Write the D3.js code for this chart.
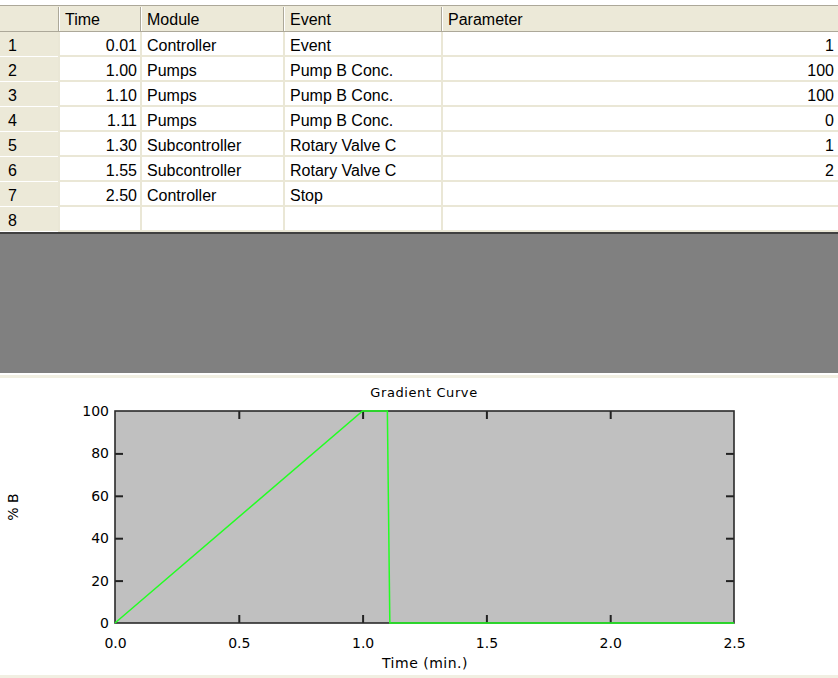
<!DOCTYPE html>
<html><head><meta charset="utf-8">
<script src="https://cdn.jsdelivr.net/npm/d3@7"></script>
<style>
html,body{margin:0;padding:0;background:#fff;}
svg{display:block;}
</style></head>
<body>
<svg id="c" width="838" height="678"></svg>
<script>
// ---- table data ----
const headers = ["Time", "Module", "Event", "Parameter"];
const rowNums = [1, 2, 3, 4, 5, 6, 7, 8];
const times = ["0.01", "1.00", "1.10", "1.11", "1.30", "1.55", "2.50", ""];
const modules = ["Controller", "Pumps", "Pumps", "Pumps", "Subcontroller", "Subcontroller", "Controller", ""];
const events = ["Event", "Pump B Conc.", "Pump B Conc.", "Pump B Conc.", "Rotary Valve C", "Rotary Valve C", "Stop", ""];
const params = ["1", "100", "100", "0", "1", "2", "", ""];

// ---- gradient data ----
const gradTime = [0.0, 1.00, 1.10, 1.11, 2.50];
const gradB = [0, 100, 100, 0, 0];
const xTicks = [0.0, 0.5, 1.0, 1.5, 2.0, 2.5];
const yTicks = [0, 20, 40, 60, 80, 100];
const chartTitle = "Gradient Curve";
const xLabel = "Time (min.)";
const yLabel = "% B";

const svg = d3.select("#c");
const W = 838;

// ---------- Table ----------
const colX = [0, 59, 141, 284, 442, W];
const headTop = 5, headBot = 32, rowH = 25;
const beige = "#ECE9D8", lineC = "#ACA899", gridC = "#EAE7D6";
const tbl = svg.append("g").attr("font-family", "'Liberation Sans', Arial, sans-serif").attr("font-size", 16);

tbl.append("rect").attr("x", 0).attr("y", headTop).attr("width", W).attr("height", headBot - headTop).attr("fill", beige);
tbl.append("rect").attr("x", 0).attr("y", headBot).attr("width", colX[1]).attr("height", rowH * rowNums.length).attr("fill", beige);
tbl.append("line").attr("x1", 0).attr("x2", W).attr("y1", headTop + 0.5).attr("y2", headTop + 0.5).attr("stroke", lineC);
tbl.append("line").attr("x1", 0).attr("x2", W).attr("y1", headBot - 0.5).attr("y2", headBot - 0.5).attr("stroke", lineC);
colX.slice(1, 5).forEach(x => {
  tbl.append("line").attr("x1", x - 0.5).attr("x2", x - 0.5).attr("y1", headTop + 2).attr("y2", headBot - 1).attr("stroke", lineC);
  tbl.append("line").attr("x1", x + 0.5).attr("x2", x + 0.5).attr("y1", headTop + 2).attr("y2", headBot - 1).attr("stroke", "#fff");
});
headers.forEach((h, i) => {
  tbl.append("text").attr("x", colX[i + 1] + 6).attr("y", (headTop + headBot) / 2 + 6).text(h);
});
rowNums.forEach((r, i) => {
  const yb = headBot + rowH * (i + 1);
  tbl.append("line").attr("x1", colX[1]).attr("x2", W).attr("y1", yb - 1).attr("y2", yb - 1).attr("stroke", gridC).attr("stroke-width", 2);
  tbl.append("line").attr("x1", 0).attr("x2", colX[1]).attr("y1", yb - 0.5).attr("y2", yb - 0.5).attr("stroke", "#fff");
});
colX.slice(1, 5).forEach(x => {
  tbl.append("line").attr("x1", x).attr("x2", x).attr("y1", headBot).attr("y2", headBot + rowH * rowNums.length).attr("stroke", gridC).attr("stroke-width", 2);
});
rowNums.forEach((r, i) => {
  const ty = headBot + rowH * i + rowH / 2 + 6;
  tbl.append("text").attr("x", 8).attr("y", ty).text(r);
  tbl.append("text").attr("x", colX[2] - 4).attr("y", ty).attr("text-anchor", "end").text(times[i]);
  tbl.append("text").attr("x", colX[2] + 6).attr("y", ty).text(modules[i]);
  tbl.append("text").attr("x", colX[3] + 6).attr("y", ty).text(events[i]);
  tbl.append("text").attr("x", W - 4).attr("y", ty).attr("text-anchor", "end").text(params[i]);
});
svg.append("rect").attr("x", 0).attr("y", 232).attr("width", W).attr("height", 141).attr("fill", "#808080");
svg.append("rect").attr("x", 0).attr("y", 232).attr("width", W).attr("height", 2).attr("fill", "#404040");
svg.append("rect").attr("x", 0).attr("y", 375).attr("width", W).attr("height", 3).attr("fill", "#F1EFE2");
svg.append("rect").attr("x", 0).attr("y", 675).attr("width", W).attr("height", 3).attr("fill", "#F1EFE2");

// ---------- Chart ----------
const x = d3.scaleLinear().domain([0, 2.5]).range([115, 734]);
const y = d3.scaleLinear().domain([0, 100]).range([623, 411]);
const FONT = "'DejaVu Sans', Verdana, sans-serif";
const ch = svg.append("g").attr("font-family", FONT).attr("font-size", 14);

ch.append("rect").attr("x", x(0)).attr("y", y(100)).attr("width", x(2.5) - x(0)).attr("height", y(0) - y(100)).attr("fill", "#C0C0C0");

const inX = xTicks.filter(d => d > 0 && d < 2.5);
const inY = yTicks.filter(d => d > 0 && d < 100);
const fmt = d3.format(".1f");

function styleAxis(g) {
  g.attr("font-family", FONT).attr("font-size", 14);
  g.select(".domain").remove();
  g.selectAll(".tick line").attr("stroke", "#222").attr("stroke-width", 2);
  g.selectAll(".tick text").attr("fill", "#000");
}
const gb = ch.append("g").attr("transform", `translate(0,${y(0)})`)
  .call(d3.axisBottom(x).tickValues(xTicks).tickFormat(fmt).tickSizeInner(-8).tickSizeOuter(0).tickPadding(15));
styleAxis(gb);
gb.selectAll(".tick").filter(d => d === 0 || d === 2.5).select("line").remove();
const gt = ch.append("g").attr("transform", `translate(0,${y(100)})`)
  .call(d3.axisTop(x).tickValues(inX).tickFormat("").tickSizeInner(-8).tickSizeOuter(0));
styleAxis(gt);
const gl = ch.append("g").attr("transform", `translate(${x(0)},0)`)
  .call(d3.axisLeft(y).tickValues(yTicks).tickFormat(d3.format("d")).tickSizeInner(-8).tickSizeOuter(0).tickPadding(6));
styleAxis(gl);
gl.selectAll(".tick").filter(d => d === 0 || d === 100).select("line").remove();
const gr = ch.append("g").attr("transform", `translate(${x(2.5)},0)`)
  .call(d3.axisRight(y).tickValues(inY).tickFormat("").tickSizeInner(-8).tickSizeOuter(0));
styleAxis(gr);

ch.append("rect").attr("x", x(0)).attr("y", y(100)).attr("width", x(2.5) - x(0)).attr("height", y(0) - y(100))
  .attr("fill", "none").attr("stroke", "#2a2a2a").attr("stroke-width", 1.6);

const pts = gradTime.map((t, i) => [t, gradB[i]]);
ch.append("path").datum(pts)
  .attr("d", d3.line().x(d => x(d[0])).y(d => y(d[1])))
  .attr("fill", "none").attr("stroke", "#22FF22").attr("stroke-width", 1.5);

ch.append("text").attr("x", 424).attr("y", 397).attr("text-anchor", "middle").attr("font-size", 13).attr("letter-spacing", 0.6).text(chartTitle);
ch.append("text").attr("x", 425).attr("y", 668).attr("text-anchor", "middle").attr("letter-spacing", 0.5).text(xLabel);
ch.append("text").attr("transform", "translate(18,507) rotate(-90)").attr("text-anchor", "middle").attr("font-size", 14).text(yLabel);
</script>
</body></html>
